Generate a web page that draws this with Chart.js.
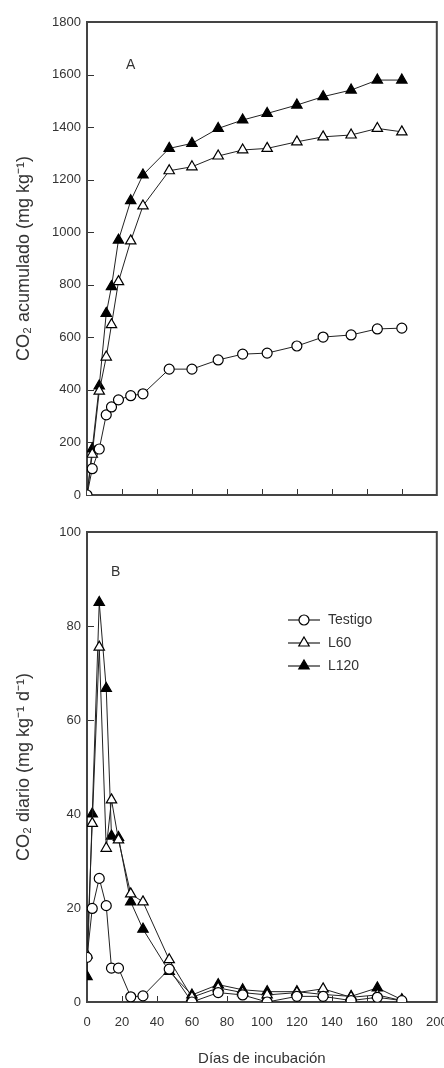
<!DOCTYPE html>
<html lang="es">
<head>
<meta charset="utf-8">
<title>CO2 acumulado y diario</title>
<script src="https://cdn.jsdelivr.net/npm/chart.js@4.4.1/dist/chart.umd.min.js"></script>
<style>
    body { margin: 0; background: #fff; }
    #contenedor { position: relative; width: 444px; height: 1068px; overflow: hidden; }
    #graficoA { position: absolute; left: 0; top: 0; }
    #graficoB { position: absolute; left: 0; top: 510px; }
    .panel { position: absolute; font: 14px 'Liberation Sans', Arial, sans-serif; color: #333; }
</style>
</head>
<body>
<div id="contenedor">
    <canvas id="graficoA" width="444" height="510"></canvas>
    <canvas id="graficoB" width="444" height="558"></canvas>
    <div class="panel" style="left:126px; top:56px;">A</div>
    <div class="panel" style="left:111px; top:563px;">B</div>
</div>
<script>
// Días de incubación (eje x común)
const dias = [0, 3, 7, 11, 14, 18, 25, 32, 47, 60, 75, 89, 103, 120, 135, 151, 166, 180];

// Panel A: CO2 acumulado (mg kg-1)
const acumTestigo = [0, 100, 175, 305, 335, 362, 378, 385, 479, 479, 514, 536, 540, 567, 601, 609, 632, 635];
const acumL60 = [0, 155, 395, 525, 648, 812, 967, 1100, 1234, 1249, 1290, 1313, 1319, 1344, 1363, 1370, 1395, 1382];
const acumL120 = [0, 175, 415, 691, 793, 970, 1120, 1218, 1319, 1338, 1395, 1427, 1452, 1484, 1516, 1541, 1579, 1579];

// Panel B: CO2 diario (mg kg-1 d-1)
const diaTestigo = [9.5, 19.9, 26.3, 20.5, 7.2, 7.2, 1.1, 1.3, 7, 0, 2, 1.5, 0, 1.2, 1.2, 0.3, 1, 0.3];
const diaL60 = [10, 38, 75.5, 32.7, 43, 34.5, 23, 21.3, 9, 1, 3, 2, 1.5, 2, 2.8, 1, 1.5, 0.3];
const diaL120 = [5.4, 40, 85, 66.7, 35.3, 35, 21.3, 15.5, 6.5, 1.5, 3.7, 2.6, 2.2, 2.2, 1.6, 1.2, 3, 0.5];

const tratamientos = ['Testigo', 'L60', 'L120'];

const fuente = "'Liberation Sans', Arial, sans-serif";
const colorTexto = '#333';

// Convierte un arreglo de valores en puntos {x, y}
function puntos(valores) {
    return dias.map((d, i) => ({ x: d, y: valores[i] }));
}

// Estilo de cada serie
function serie(nombre, valores) {
    const estilos = {
        Testigo: { pointStyle: 'circle', pointRadius: 5, fondo: '#fff' },
        L60: { pointStyle: 'triangle', pointRadius: 6, fondo: '#fff' },
        L120: { pointStyle: 'triangle', pointRadius: 6, fondo: '#000' }
    };
    const e = estilos[nombre];
    return {
        label: nombre,
        data: puntos(valores),
        borderColor: '#222',
        borderWidth: 1,
        pointStyle: e.pointStyle,
        pointRadius: e.pointRadius,
        pointBackgroundColor: e.fondo,
        pointBorderColor: '#000',
        pointBorderWidth: 1.2,
        tension: 0
    };
}

// Marco completo y marcas de graduación hacia adentro
const marco = {
    id: 'marco',
    beforeDatasetsDraw(chart) {
        const { ctx, chartArea: a, scales } = chart;
        ctx.save();
        ctx.strokeStyle = '#333';
        ctx.lineWidth = 1;
        scales.y.ticks.forEach(t => {
            const py = Math.round(scales.y.getPixelForValue(t.value)) + 0.5;
            if (py > a.top + 2 && py < a.bottom - 2) {
                ctx.beginPath();
                ctx.moveTo(a.left, py);
                ctx.lineTo(a.left + 7, py);
                ctx.stroke();
            }
        });
        scales.x.ticks.forEach(t => {
            const px = Math.round(scales.x.getPixelForValue(t.value)) + 0.5;
            if (px > a.left + 2 && px < a.right - 2) {
                ctx.beginPath();
                ctx.moveTo(px, a.bottom);
                ctx.lineTo(px, a.bottom - 6);
                ctx.stroke();
            }
        });
        ctx.lineWidth = 2;
        ctx.strokeStyle = '#444';
        ctx.strokeRect(a.left, a.top, a.width, a.height);
        ctx.restore();
    }
};

// Leyenda dentro del panel B (línea + marcador + nombre)
const leyenda = {
    id: 'leyenda',
    afterDraw(chart) {
        const { ctx } = chart;
        ctx.save();
        ctx.font = '14px ' + fuente;
        ctx.textBaseline = 'middle';
        chart.data.datasets.forEach((ds, i) => {
            const y = 110 + i * 23;
            ctx.strokeStyle = '#222';
            ctx.lineWidth = 1.2;
            ctx.beginPath();
            ctx.moveTo(288, y);
            ctx.lineTo(320, y);
            ctx.stroke();
            ctx.fillStyle = ds.pointBackgroundColor;
            ctx.strokeStyle = ds.pointBorderColor;
            ctx.lineWidth = ds.pointBorderWidth;
            Chart.helpers.drawPoint(ctx, {
                pointStyle: ds.pointStyle,
                radius: ds.pointRadius,
                borderWidth: ds.pointBorderWidth,
                rotation: 0
            }, 304, y);
            ctx.fillStyle = colorTexto;
            ctx.fillText(ds.label, 328, y);
        });
        ctx.restore();
    }
};

// Opciones comunes de ejes
function ejes(maxY, pasoY, tituloY, alturaX, etiquetasX) {
    return {
        x: {
            type: 'linear',
            min: 0,
            max: 200,
            grid: { display: false, drawTicks: false },
            border: { display: false },
            ticks: {
                stepSize: 20,
                display: etiquetasX,
                color: colorTexto,
                font: { family: fuente, size: 13 },
                padding: 13,
                maxRotation: 0,
                callback: v => String(v)
            },
            title: {
                display: etiquetasX,
                text: 'Días de incubación',
                color: colorTexto,
                font: { family: fuente, size: 15 },
                padding: { top: 0, bottom: 0 }
            },
            afterFit: s => {
                s.height = alturaX;
                s.paddingLeft = 0;
                s.paddingRight = 0;
            }
        },
        y: {
            min: 0,
            max: maxY,
            grid: { display: false, drawTicks: false },
            border: { display: false },
            ticks: {
                stepSize: pasoY,
                color: colorTexto,
                font: { family: fuente, size: 13 },
                padding: 6,
                callback: v => String(v)
            },
            title: {
                display: true,
                text: tituloY,
                color: colorTexto,
                font: { family: fuente, size: 18 },
                padding: { top: 13, bottom: 0 }
            },
            afterFit: s => {
                s.width = 87;
                s.paddingTop = 0;
                s.paddingBottom = 0;
            }
        }
    };
}

// Gráfico A: CO2 acumulado
new Chart(document.getElementById('graficoA'), {
    type: 'line',
    data: {
        datasets: [
            serie('Testigo', acumTestigo),
            serie('L60', acumL60),
            serie('L120', acumL120)
        ]
    },
    options: {
        responsive: false,
        animation: false,
        layout: { padding: { top: 22, right: 6, left: 0, bottom: 0 } },
        plugins: { legend: { display: false }, tooltip: { enabled: false } },
        scales: ejes(1800, 200, 'CO₂ acumulado (mg kg⁻¹)', 15, false)
    },
    plugins: [marco]
});

// Gráfico B: CO2 diario
new Chart(document.getElementById('graficoB'), {
    type: 'line',
    data: {
        datasets: tratamientos.map((t, i) => serie(t, [diaTestigo, diaL60, diaL120][i]))
    },
    options: {
        responsive: false,
        animation: false,
        layout: { padding: { top: 22, right: 7, left: 0, bottom: 0 } },
        plugins: { legend: { display: false }, tooltip: { enabled: false } },
        scales: ejes(100, 20, 'CO₂ diario (mg kg⁻¹ d⁻¹)', 66, true)
    },
    plugins: [marco, leyenda]
});
</script>
</body>
</html>
